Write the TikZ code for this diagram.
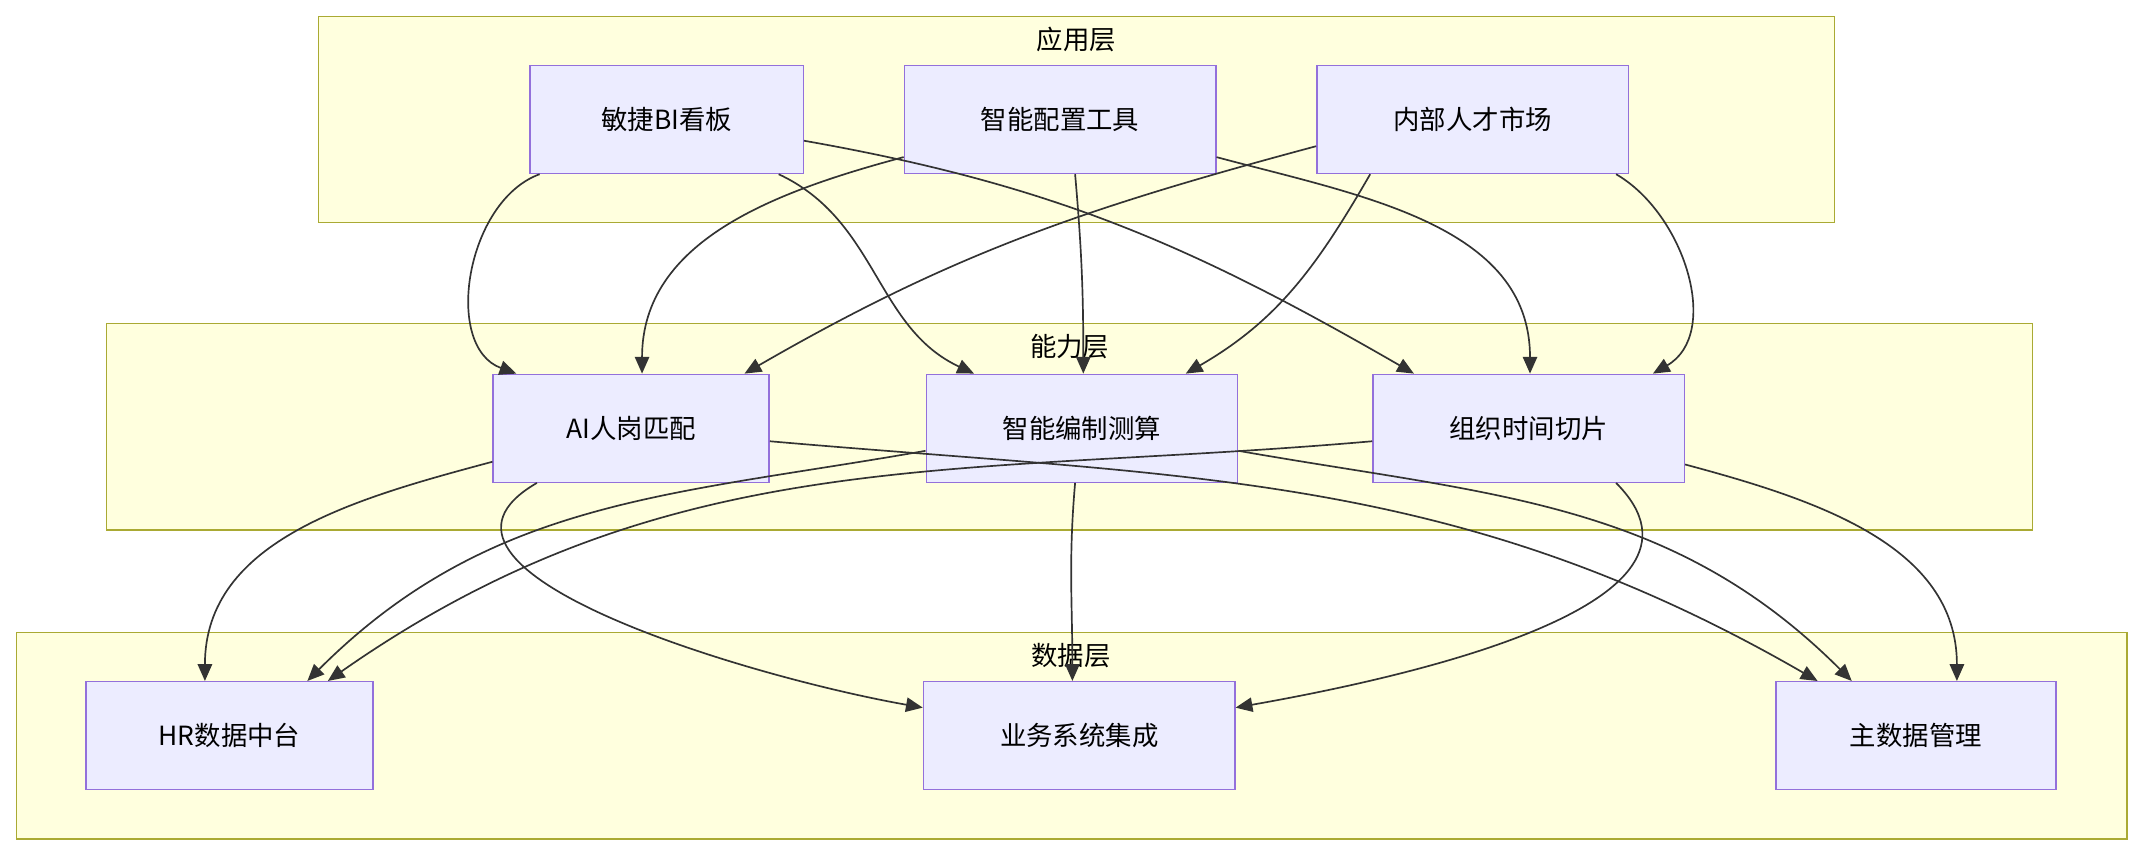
\documentclass[tikz,border=0pt]{standalone}
\usepackage{fontspec}
\setmainfont{Noto Sans CJK SC}
\usetikzlibrary{calc,positioning,arrows.meta}
\definecolor{grpfill}{HTML}{FFFFDE}
\definecolor{grpline}{HTML}{AAAA33}
\definecolor{boxfill}{HTML}{ECECFF}
\definecolor{boxline}{HTML}{9370DB}
\definecolor{edge}{HTML}{333333}
\begin{document}
\begin{tikzpicture}[x=0.02cm,y=-0.02cm,>={Triangle[length=7pt,width=6pt]},
  grp/.style={draw=grpline,fill=grpfill,line width=0.6pt},
  box/.style={draw=boxline,fill=boxfill,line width=0.6pt,minimum height=1.58cm,font=\fontsize{11}{13}\selectfont},
  lbl/.style={font=\fontsize{11}{13}\selectfont},
  link/.style={->,draw=edge,line width=0.7pt}]
  \useasboundingbox (0,0) rectangle (1568,626);

  % groups
  \draw[grp] (233,12) rectangle (1343,163);
  \node[lbl] (gapp) at (788,29) {应用层};
  \draw[grp] (78,237) rectangle (1488,388);
  \node[lbl] (gcap) at (783,254) {能力层};
  \draw[grp] (12,463) rectangle (1557,614);
  \node[lbl] (gdat) at (784,480) {数据层};

  % nodes
  \node[box,minimum width=4cm] (bi) at (488,87.5) {敏捷BI看板};
  \node[box,minimum width=4.56cm] (cfg) at (776,87.5) {智能配置工具};
  \node[box,minimum width=4.56cm] (tal) at (1078,87.5) {内部人才市场};
  \node[box,minimum width=4.04cm] (ai) at (462,313.5) {AI人岗匹配};
  \node[box,minimum width=4.56cm] (bud) at (792,313.5) {智能编制测算};
  \node[box,minimum width=4.56cm] (org) at (1119,313.5) {组织时间切片};
  \node[box,minimum width=4.2cm] (hr) at (168,538.5) {HR数据中台};
  \node[box,minimum width=4.56cm] (biz) at (790,538.5) {业务系统集成};
  \node[box,minimum width=4.1cm] (md) at (1402.5,538.5) {主数据管理};

  % app -> capability
  \draw[link] ($(bi.south)+(-93,0)$) to[out=200,in=160] ($(ai.north)+(-84,0)$);
  \draw[link] ($(bi.south)+(82,0)$) to[out=-25,in=155] ($(bud.north)+(-79,0)$);
  \draw[link] ($(bi.east)+(0,15.5)$) to[out=-10,in=150] ($(org.north)+(-84,0)$);
  \draw[link] ($(cfg.west)+(0,27.5)$) to[out=195,in=90] ($(ai.north)+(8,0)$);
  \draw[link] ($(cfg.south)+(11,0)$) to[out=-85,in=90] ($(bud.north)+(1,0)$);
  \draw[link] ($(cfg.east)+(0,27.5)$) to[out=-15,in=90] ($(org.north)+(1,0)$);
  \draw[link] ($(tal.west)+(0,19.5)$) to[out=195,in=30] ($(ai.north)+(83,0)$);
  \draw[link] ($(tal.south)+(-75,0)$) to[out=-120,in=30] ($(bud.north)+(76,0)$);
  \draw[link] ($(tal.south)+(105,0)$) to[out=-30,in=30] ($(org.north)+(91,0)$);

  % capability -> data
  \draw[link] ($(ai.west)+(0,24.5)$) to[out=195,in=90] ($(hr.north)+(-18,0)$);
  \draw[link] ($(ai.south)+(-69,0)$) to[out=-150,in=170] ($(biz.west)+(0,-20.5)$);
  \draw[link] ($(ai.east)+(0,9.5)$) to[out=-5,in=150] ($(md.north)+(-72,0)$);
  \draw[link] ($(bud.west)+(0,16.5)$) to[out=190,in=45] ($(hr.north)+(57,0)$);
  \draw[link] ($(bud.south)+(-5,0)$) to[out=-95,in=90] ($(biz.north)+(-5,0)$);
  \draw[link] ($(bud.east)+(0,16.5)$) to[out=-10,in=135] ($(md.north)+(-47,0)$);
  \draw[link] ($(org.west)+(0,9.5)$) to[out=185,in=35] ($(hr.north)+(72,0)$);
  \draw[link] ($(org.south)+(64,0)$) to[out=-45,in=10] ($(biz.east)+(0,-20.5)$);
  \draw[link] ($(org.east)+(0,26.5)$) to[out=-15,in=90] ($(md.north)+(30,0)$);
\end{tikzpicture}
\end{document}
